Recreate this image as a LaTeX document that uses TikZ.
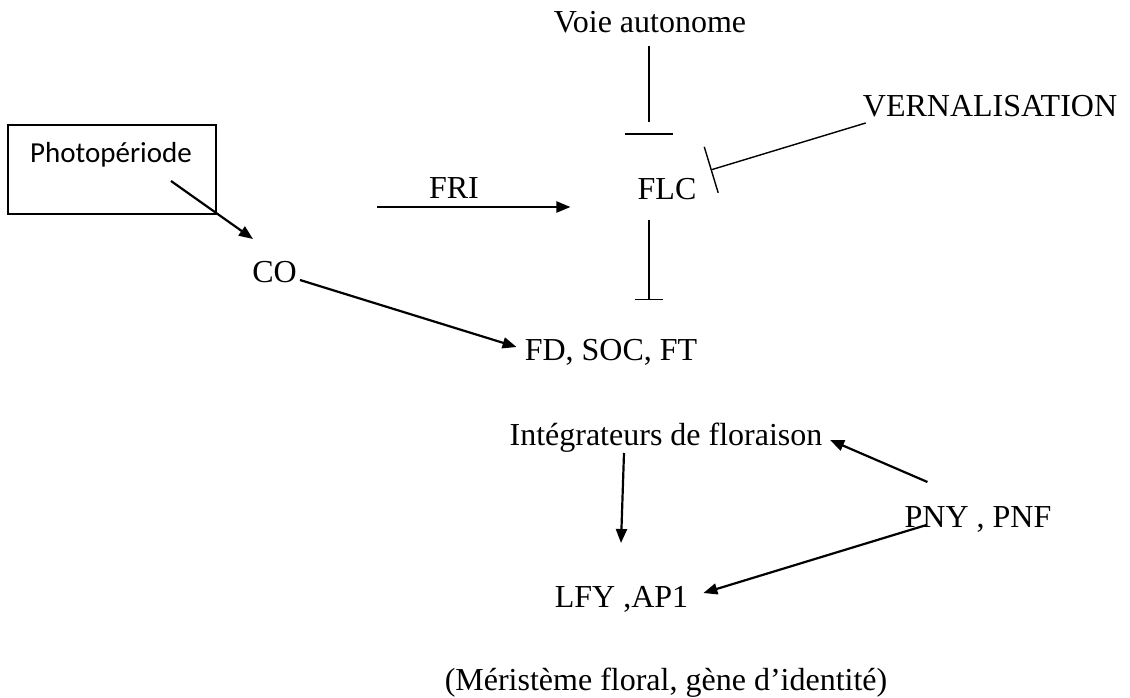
\documentclass[tikz,border=0pt]{standalone}
\usepackage{fontspec}
\setmainfont{Liberation Serif}
\newfontfamily\policeCadre{Carlito}
\usetikzlibrary{arrows.meta, positioning, calc}
\colorlet{colTrait}{black}
\colorlet{colTexte}{black}
\tikzset{
  texteGene/.style={font=\fontsize{32}{38}\selectfont, text=colTexte,
    inner sep=0pt, anchor=base},
  texteCadre/.style={texteGene, font=\policeCadre\fontsize{29}{34}\selectfont},
  cadre/.style={draw=colTrait, line width=1.4pt, minimum width=208pt,
    minimum height=89pt, inner sep=0pt},
  trait/.style={line width=1.4pt, colTrait},
  fleche/.style={-{Triangle[length=14pt, width=11pt]}, line width=2.2pt, colTrait},
  inhib/.style={-{Bar[width=#1]}, line width=1.4pt, colTrait},
}

\begin{document}
\begin{tikzpicture}[x=1pt, y=-1pt]
  \useasboundingbox (0,0) rectangle (1130,698);
  % signaux d'entree
  \node[cadre] (boite) at (112,169.5) {};
  \node[texteCadre] (photo) at (111,163) {Photopériode};
  \node[texteGene] (voie) at (650,33) {Voie autonome};
  \node[texteGene] (vern) at (990,117) {VERNALISATION};
  % genes
  \node[texteGene] (fri) at (454,198) {FRI};
  \node[texteGene] (flc) at (667,200) {FLC};
  \node[texteGene] (co) at (274.5,282) {CO};
  \node[texteGene] (fd) at (611,360) {FD, SOC, FT};
  \node[texteGene] (integ) at (666,445) {Intégrateurs de floraison};
  \node[texteGene] (pny) at (978,527) {PNY , PNF};
  \node[texteGene] (lfy) at (621.5,607) {LFY ,AP1};
  \node[texteGene] (meri) at (666,690) {(Méristème floral, gène d’identité)};

  % activations
  \draw[fleche] ($(photo.base)+(60,18)$) -- ($(co.base)+(-21.5,-43)$);
  \draw[fleche] ($(fri.base)+(-77,9)$) -- ($(flc.base west)+(-67,7)$);
  \draw[fleche] ($(co.base)+(25.5,-2)$) -- ($(fd.base west)+(-8,-13)$);
  \draw[fleche] ($(integ.base)+(-42,8)$) -- ($(lfy.base)+(-0.5,-64)$);
  \draw[fleche] ($(pny.base west)+(23,-45)$) -- ($(integ.base east)+(7.5,-5)$);
  \draw[fleche] ($(pny.base west)+(22,-2)$) -- ($(lfy.base east)+(15,-14)$);

  % inhibitions
  \draw[trait] ($(voie.base)+(-1,13)$) -- ($(flc.base)+(-18,-78)$);
  \draw[trait] ($(flc.base)+(-42,-66)$) -- ($(flc.base)+(6,-66)$);
  \draw[inhib=48pt] ($(vern.base west)+(3,6)$) -- ($(flc.base east)+(14,-30)$);
  \draw[inhib=28pt] ($(flc.base)+(-18,20)$) -- ($(flc.base)+(-18,100)$);
\end{tikzpicture}
\end{document}
